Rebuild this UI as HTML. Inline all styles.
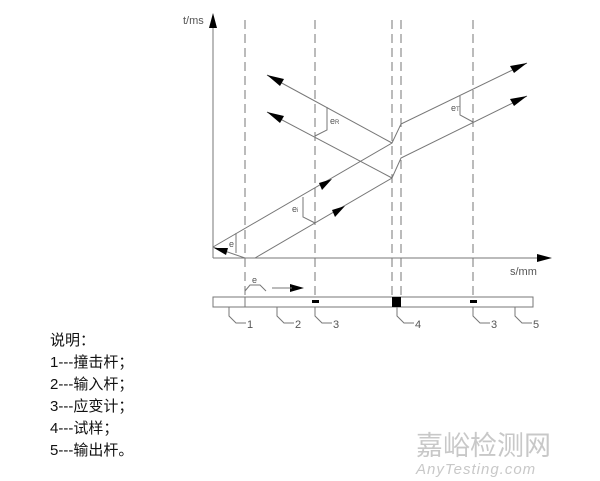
<!DOCTYPE html>
<html><head><meta charset="utf-8"><style>
html,body{margin:0;padding:0;background:#fff;}
svg{display:block;}
text{font-family:"Liberation Sans","Noto Sans CJK SC",sans-serif;}
</style></head><body>
<svg width="600" height="481" viewBox="0 0 600 481" xmlns="http://www.w3.org/2000/svg">
<g stroke="#777" stroke-width="1" fill="none">
<line x1="213" y1="258" x2="213" y2="20"/>
<line x1="213" y1="258" x2="545" y2="258"/>
<g stroke-dasharray="9,5">
<line x1="245" y1="20" x2="245" y2="296"/>
<line x1="315" y1="20" x2="315" y2="300"/>
<line x1="392" y1="20" x2="392" y2="296"/>
<line x1="401" y1="20" x2="401" y2="296"/>
<line x1="473" y1="20" x2="473" y2="300"/>
</g>
<polyline points="213,247 392,143 401,124 527,63"/>
<polyline points="255,258 392,178 401,158 527,96"/>
<line x1="392" y1="143" x2="267" y2="75"/>
<line x1="392" y1="178" x2="267" y2="112"/>
<line x1="245" y1="258" x2="213" y2="247"/>
<polyline points="236,233 236,253"/>
<polyline points="303,197 303,217 315,223"/>
<polyline points="327,107 327,130 315,136"/>
<polyline points="460,96 460,115 473,122"/>
<rect x="213" y="297" width="320" height="10"/>
<line x1="245" y1="297" x2="245" y2="307"/>
<polyline points="245,291 250,285 260,285 266,291"/>
<polyline points="229,307 229,316 236,323 246,323"/>
<polyline points="277,307 277,316 284,323 294,323"/>
<polyline points="315,307 315,316 322,323 332,323"/>
<polyline points="397,307 397,316 404,323 414,323"/>
<polyline points="473,307 473,316 480,323 490,323"/>
<polyline points="515,307 515,316 522,323 532,323"/>
</g>
<g fill="#000">
<polygon points="213,13 209,28 217,28"/>
<polygon points="552,258 537,254 537,262"/>
<polygon points="527,63 510,66 514,73"/>
<polygon points="527,96 510,99 514,106"/>
<polygon points="267,75 280,86 284,79"/>
<polygon points="267,112 280,123 284,116"/>
<polygon points="332,179 319,183 322,190"/>
<polygon points="345,206 332,210 335,217"/>
<polygon points="214,248 228,248 226,255"/>
<polygon points="304,288 290,284 290,292"/>
<rect x="392" y="297" width="9" height="10"/>
<rect x="312" y="300" width="7" height="3"/>
<rect x="470" y="300" width="7" height="3"/>
</g>
<line x1="272" y1="288" x2="292" y2="288" stroke="#777"/>
<g font-size="9" fill="#555">
<text x="229" y="247">e</text>
<text x="292" y="212">e<tspan font-size="6">i</tspan></text>
<text x="330" y="124">e<tspan font-size="6">R</tspan></text>
<text x="451" y="111">e<tspan font-size="6">T</tspan></text>
<text x="252" y="283">e</text>
</g>
<g font-size="11" fill="#555">
<text x="183" y="24">t/ms</text>
<text x="510" y="275">s/mm</text>
<text x="247" y="328">1</text>
<text x="295" y="328">2</text>
<text x="333" y="328">3</text>
<text x="415" y="328">4</text>
<text x="491" y="328">3</text>
<text x="533" y="328">5</text>
</g>
<g font-size="15" fill="#111">
<text x="50" y="345">说明：</text>
<text x="50" y="367">1---撞击杆；</text>
<text x="50" y="389">2---输入杆；</text>
<text x="50" y="411">3---应变计；</text>
<text x="50" y="433">4---试样；</text>
<text x="50" y="455">5---输出杆。</text>
</g>
<text x="416" y="455" font-size="27" fill="#c8c8c8">嘉峪检测网</text>
<text x="416" y="474" font-size="15" font-style="italic" fill="#c8c8c8" letter-spacing="1">AnyTesting.com</text>
</svg>
</body></html>
